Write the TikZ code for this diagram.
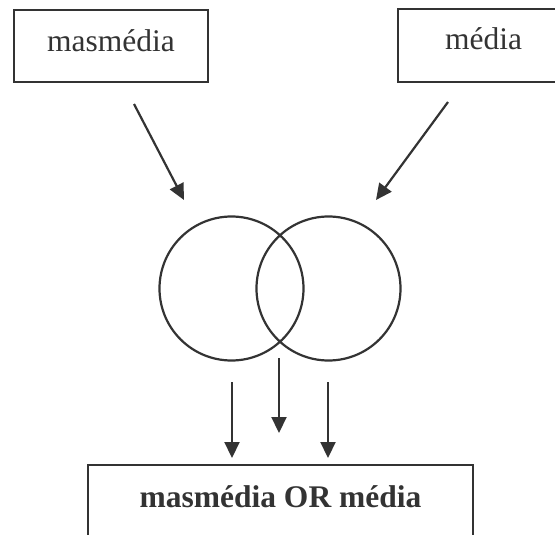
\documentclass[tikz,border=0pt]{standalone}
\usepackage{fontspec}
\setmainfont{Liberation Serif}
\usetikzlibrary{arrows.meta}
\begin{document}
\begin{tikzpicture}[x=1pt,y=-1pt,
  box/.style={draw=black!80,line width=2.2pt,rectangle,inner sep=0pt},
  lbl/.style={inner sep=0pt,font=\fontsize{31.5}{36}\selectfont,text=black!80},
  ring/.style={draw=black!80,line width=2.2pt,circle,minimum size=144pt,inner sep=0pt},
  arr/.style={draw=black!80,line width=2.2pt,-{Triangle[length=16pt,width=15pt]}}]
\useasboundingbox (0,0) rectangle (555,535);
\clip (0,0) rectangle (555,535);
% boxes
\node[box,minimum width=194pt,minimum height=72pt] (lbox) at (111,46) {};
\node[lbl,anchor=base] (ltext) at (111,52) {masmédia};
\node[box,minimum width=204pt,minimum height=73pt] (rbox) at (500,45.5) {};
\node[lbl,anchor=base] (rtext) at (483.5,50) {média};
\node[box,minimum width=385pt,minimum height=140pt] (bbox) at (280.5,535) {};
\node[lbl,anchor=base,font=\fontsize{31.5}{36}\selectfont\bfseries] (btext) at (280.5,507) {masmédia OR média};
% circles
\node[ring] (lc) at (231.5,288.5) {};
\node[ring] (rc) at (328.5,288.5) {};
% connector ends
\coordinate (la) at (134,104);
\coordinate (lt) at (184,200);
\coordinate (ra) at (448,102);
\coordinate (rt) at (376,200);
\coordinate (b1s) at (232,382);
\coordinate (b1t) at (232,458);
\coordinate (b2s) at (279,358);
\coordinate (b2t) at (279,433);
\coordinate (b3s) at (328,382);
\coordinate (b3t) at (328,458);
\draw[arr] (la) -- (lt);
\draw[arr] (ra) -- (rt);
\draw[arr] (b1s) -- (b1t);
\draw[arr] (b2s) -- (b2t);
\draw[arr] (b3s) -- (b3t);
\end{tikzpicture}
\end{document}
